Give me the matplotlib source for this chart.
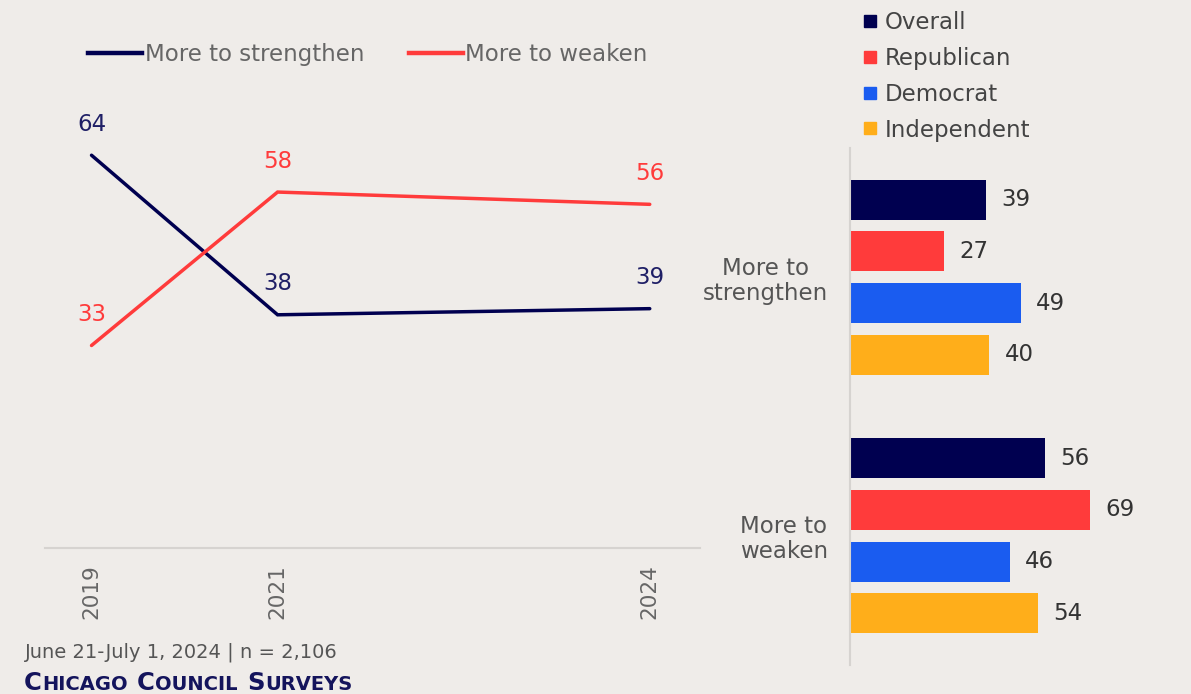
import matplotlib
matplotlib.use("Agg")
import matplotlib.pyplot as plt
from matplotlib.lines import Line2D
from matplotlib.offsetbox import TextArea, HPacker, AnchoredOffsetbox

# ---------------- data ----------------
years = ["2019", "2021", "2024"]
year_pos = [0, 1, 3]
strengthen_trend = [64, 38, 39]
weaken_trend = [33, 58, 56]
trend_labels = ["More to strengthen", "More to weaken"]

bar_categories = ["More to\nstrengthen", "More to\nweaken"]
groups = ["Overall", "Republican", "Democrat", "Independent"]
strengthen_by_group = [39, 27, 49, 40]
weaken_by_group = [56, 69, 46, 54]

footnote = "June 21-July 1, 2024 | n = 2,106"
source_words = [("C", "HICAGO"), ("C", "OUNCIL"), ("S", "URVEYS")]

# ---------------- style ----------------
BG = "#EFECE9"
NAVY = "#000050"
NAVY_TXT = "#1F1F66"
RED = "#FF3B3B"
BLUE = "#1A5CF0"
ORANGE = "#FFAE1A"
group_colors = [NAVY, RED, BLUE, ORANGE]
plt.rcParams["font.family"] = ["DejaVu Sans"]

W, H = 1191, 694
fig = plt.figure(figsize=(W / 100, H / 100), dpi=100, facecolor=BG)

# ---------------- line chart ----------------
ax = fig.add_axes([45 / W, 1 - 548 / H, 655 / W, 448 / H], facecolor=BG)
ax.plot(year_pos, strengthen_trend, color=NAVY, lw=2.5, solid_capstyle="round",
        solid_joinstyle="miter")
ax.plot(year_pos, weaken_trend, color=RED, lw=2.5, solid_capstyle="round",
        solid_joinstyle="miter")
for x, v in zip(year_pos, strengthen_trend):
    ax.annotate(str(v), (x, v), xytext=(0, 14), textcoords="offset points",
                ha="center", va="bottom", fontsize=16.5, color=NAVY_TXT)
for x, v in zip(year_pos, weaken_trend):
    ax.annotate(str(v), (x, v), xytext=(0, 14), textcoords="offset points",
                ha="center", va="bottom", fontsize=16.5, color=RED)
ax.set_xlim(-0.25, 3.27)
ax.set_ylim(0, 73)
ax.set_xticks(year_pos)
ax.set_xticklabels(years, rotation=90, fontsize=15.5, color="#666666")
ax.tick_params(axis="x", length=0, pad=11.5)
ax.set_yticks([])
for s in ["top", "right", "left"]:
    ax.spines[s].set_visible(False)
ax.spines["bottom"].set_color("#D6D3D0")
ax.spines["bottom"].set_linewidth(1.5)

handles = [Line2D([], [], color=NAVY, lw=3.2), Line2D([], [], color=RED, lw=3.2)]
leg = fig.legend(handles, trend_labels, loc="upper left",
                 bbox_to_anchor=(88 / W, 1 - 43 / H), ncol=2, frameon=False,
                 fontsize=16.5, handlelength=2.35, handletextpad=0.12,
                 columnspacing=1.95, borderpad=0, borderaxespad=0)
for t in leg.get_texts():
    t.set_color("#666666")

# ---------------- bar chart ----------------
bx = fig.add_axes([850 / W, 1 - 665 / H, 341 / W, 517 / H], facecolor=BG)
pitch = 0.2
bh = 0.155
for gi, vals in enumerate([strengthen_by_group, weaken_by_group]):
    for i, v in enumerate(vals):
        y = gi + (i - 1.5) * pitch
        bx.barh(y, v, height=bh, color=group_colors[i], left=0)
        bx.annotate(str(v), (v, y), xytext=(11, 0), textcoords="offset points",
                    ha="left", va="center", fontsize=16.5, color="#333333")
bx.set_xlim(0, 98)
bx.set_ylim(1.5, -0.5)
bx.set_xticks([])
bx.set_yticks([0, 1])
bx.set_yticklabels(bar_categories, fontsize=16.5, color="#555555",
                   multialignment="center", linespacing=1.1)
bx.tick_params(axis="y", length=0, pad=16)
for s in ["top", "right", "bottom"]:
    bx.spines[s].set_visible(False)
bx.spines["left"].set_color("#D6D3D0")
bx.spines["left"].set_linewidth(1.5)

ghandles = [Line2D([], [], marker="s", color=c, ls="none", markersize=8.5) for c in group_colors]
gleg = fig.legend(ghandles, groups, loc="upper left",
                  bbox_to_anchor=(861 / W, 1 - 11 / H), frameon=False,
                  fontsize=16.5, handlelength=0.75, handletextpad=0.3,
                  labelspacing=0.56, borderpad=0, borderaxespad=0)
for t in gleg.get_texts():
    t.set_color("#444444")

# ---------------- footer ----------------
fig.text(25 / W, 1 - 652 / H, footnote, fontsize=14, color="#555555", va="center")

words = []
for big, small in source_words:
    words.append(HPacker(children=[
        TextArea(big, textprops=dict(fontsize=17.5, weight="bold", color="#14145C")),
        TextArea(small, textprops=dict(fontsize=14, weight="bold", color="#14145C")),
    ], sep=0, pad=0, align="baseline"))
line = HPacker(children=words, sep=7, pad=0, align="baseline")
ab = AnchoredOffsetbox(loc="lower left", child=line, pad=0, borderpad=0, frameon=False,
                       bbox_to_anchor=(24 / W, 1 - 695 / H),
                       bbox_transform=fig.transFigure)
fig.add_artist(ab)

fig.savefig("out.png", dpi=100, facecolor=BG)
